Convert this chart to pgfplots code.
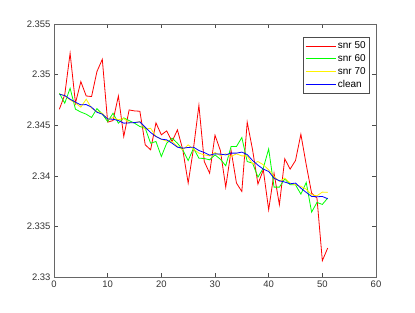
\documentclass[border=0pt]{standalone}
\usepackage{fontspec}
\setmainfont{Liberation Sans}
\usepackage{pgfplots}
\pgfplotsset{compat=1.18}
\begin{document}
\begin{tikzpicture}[x=1bp,y=1bp]
\begin{axis}[
  scale only axis,
  width=322bp, height=253bp,
  xmin=0, xmax=60, ymin=2.33, ymax=2.355,
  xtick={0,10,...,60},
  ytick={2.33,2.335,2.34,2.345,2.35,2.355},
  scaled ticks=false,
  yticklabel style={/pgf/number format/.cd,fixed,precision=3},
  /pgf/number format/assume math mode=true,
  tick label style={font=\fontsize{9.5}{11}\selectfont, text=black!80},
  tick align=inside,
  major tick length=4bp,
  every tick/.style={black!70, line width=0.5bp},
  axis line style={black!60, line width=0.6bp},
  legend style={at={(rel axis cs:0.981,0.949)}, anchor=north east,
    font=\fontsize{10}{12}\selectfont, draw=black!70, line width=0.6bp,
    inner xsep=2bp, inner ysep=2.5bp, row sep=0.5bp, cells={anchor=west}},
  legend image code/.code={\draw[#1, line width=0.8bp] (0bp,0bp) -- (30bp,0bp);},
  every axis plot/.append style={line width=0.8bp},
]
\addplot[red] coordinates {
(1,2.34658)(2,2.3480)(3,2.35211)(4,2.34717)(5,2.34931)(6,2.34789)(7,2.34783)(8,2.3503)(9,2.35151)(10,2.34530)
(11,2.34546)(12,2.34789)(13,2.34388)(14,2.34651)(15,2.34641)(16,2.34638)(17,2.34306)(18,2.34257)(19,2.34523)(20,2.34405)
(21,2.34444)(22,2.34339)(23,2.34454)(24,2.34257)(25,2.33928)(26,2.34273)(27,2.34697)(28,2.34141)(29,2.34026)(30,2.34401)
(31,2.34250)(32,2.33888)(33,2.34250)(34,2.33928)(35,2.33845)(36,2.34530)(37,2.34257)(38,2.33918)(39,2.34059)(40,2.33664)
(41,2.34026)(42,2.33714)(43,2.34168)(44,2.34066)(45,2.34151)(46,2.34411)(47,2.34109)(48,2.33829)(49,2.33780)(50,2.33161)
(51,2.33286)};
\addlegendentry{snr 50}
\addplot[green] coordinates {
(1,2.34816)(2,2.34717)(3,2.34865)(4,2.34658)(5,2.3463)(6,2.34609)(7,2.34576)(8,2.34664)(9,2.34609)(10,2.34536)
(11,2.34618)(12,2.3452)(13,2.34572)(14,2.34546)(15,2.3452)(16,2.34487)(17,2.3447)(18,2.34322)(19,2.34339)(20,2.34191)
(21,2.34322)(22,2.34372)(23,2.34322)(24,2.34257)(25,2.34151)(26,2.34273)(27,2.34174)(28,2.34171)(29,2.34158)(30,2.34207)
(31,2.34164)(32,2.34099)(33,2.3429)(34,2.3429)(35,2.34378)(36,2.34141)(37,2.34125)(38,2.33987)(39,2.34076)(40,2.34266)
(41,2.33888)(42,2.33888)(43,2.3397)(44,2.33911)(45,2.33911)(46,2.33819)(47,2.33934)(48,2.33641)(49,2.33737)(50,2.33717)
(51,2.3378)};
\addlegendentry{snr 60}
\addplot[yellow] coordinates {
(1,2.3481)(2,2.3479)(3,2.3475)(4,2.3472)(5,2.34678)(6,2.34757)(7,2.34668)(8,2.34635)(9,2.34618)(10,2.34559)
(11,2.34576)(12,2.34553)(13,2.34566)(14,2.34526)(15,2.34526)(16,2.34536)(17,2.3446)(18,2.3447)(19,2.34388)(20,2.34362)
(21,2.34342)(22,2.34339)(23,2.3429)(24,2.34257)(25,2.34306)(26,2.34263)(27,2.34224)(28,2.34207)(29,2.34197)(30,2.3423)
(31,2.342)(32,2.34217)(33,2.34191)(34,2.34217)(35,2.34197)(36,2.34197)(37,2.34118)(38,2.34141)(39,2.34109)(40,2.34059)
(41,2.33993)(42,2.33944)(43,2.33977)(44,2.33928)(45,2.33911)(46,2.33895)(47,2.33868)(48,2.33812)(49,2.33803)(50,2.33839)
(51,2.33836)};
\addlegendentry{snr 70}
\addplot[blue] coordinates {
(1,2.34806)(2,2.34793)(3,2.34757)(4,2.34727)(5,2.34701)(6,2.34704)(7,2.34678)(8,2.34628)(9,2.34609)(10,2.34562)
(11,2.34559)(12,2.34546)(13,2.3452)(14,2.34523)(15,2.34526)(16,2.34533)(17,2.3448)(18,2.34428)(19,2.34388)(20,2.34362)
(21,2.34355)(22,2.34322)(23,2.34283)(24,2.34273)(25,2.3428)(26,2.34283)(27,2.3425)(28,2.3423)(29,2.34204)(30,2.34217)
(31,2.34214)(32,2.34207)(33,2.34224)(34,2.34224)(35,2.34234)(36,2.3421)(37,2.34151)(38,2.34105)(39,2.34066)(40,2.34043)
(41,2.33977)(42,2.33951)(43,2.33938)(44,2.33921)(45,2.33928)(46,2.33878)(47,2.33836)(48,2.33796)(49,2.33793)(50,2.33796)
(51,2.33773)};
\addlegendentry{clean}
\end{axis}
\path ([xshift=-54bp,yshift=-35bp]current axis.south west) rectangle ([xshift=39bp,yshift=24bp]current axis.north east);
\end{tikzpicture}
\end{document}
